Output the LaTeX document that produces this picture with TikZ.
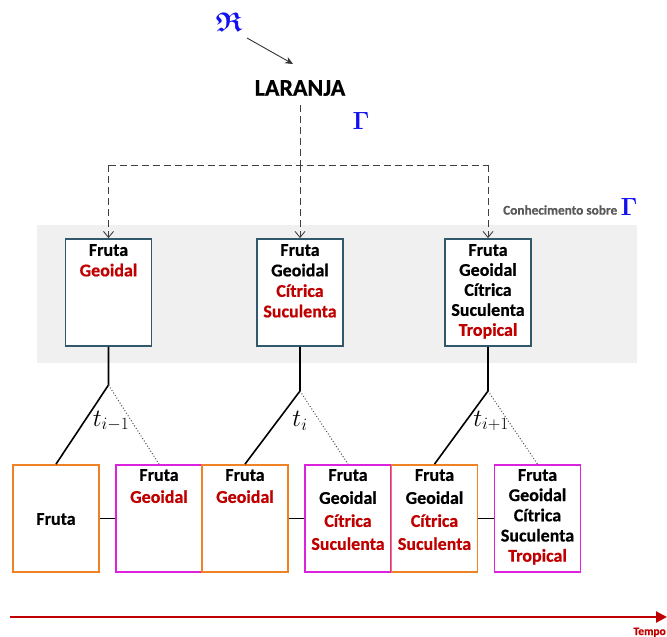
\documentclass[tikz,border=0pt]{standalone}
\usepackage{amssymb}
\usepackage{bm}
\usepackage{fontspec}
\setmainfont{Carlito}[BoldFeatures={FakeBold=0.6}]
\usetikzlibrary{arrows.meta}
\definecolor{txtred}{HTML}{C00000}
\definecolor{teal2}{HTML}{31596B}
\definecolor{orng}{HTML}{F08226}
\definecolor{magn}{HTML}{DD22DD}
\definecolor{bggray}{HTML}{F0F0F0}
\definecolor{gtxt}{HTML}{595959}
\definecolor{blu}{HTML}{1010F0}
\tikzset{
  topbox/.style={draw=teal2,line width=1.8pt,fill=white,minimum width=86pt,minimum height=107pt,inner sep=0pt},
  obox/.style={draw=orng,line width=1.8pt,fill=white,minimum width=86pt,minimum height=107pt,inner sep=0pt},
  mbox/.style={draw=magn,line width=1.8pt,fill=white,minimum width=86pt,minimum height=107pt,inner sep=0pt},
  btxt/.style={anchor=north,inner sep=0pt,align=center,font=\bfseries\fontsize{18}{20.5}\selectfont},
  dsh/.style={dashed,dash pattern=on 7pt off 4pt,line width=0.9pt,draw=black!75,-{Straight Barb[length=6pt,width=10pt]}},
  dshl/.style={dashed,dash pattern=on 7pt off 4pt,line width=0.9pt,draw=black!75},
  sol/.style={line width=1.6pt,black},
  dot/.style={dotted,line width=1pt,black!70},
  lbl/.style={inner sep=0pt,font=\fontsize{26}{28}\selectfont}
}
\newcommand{\rd}[1]{\textcolor{txtred}{#1}}
\begin{document}
\begin{tikzpicture}[x=1pt,y=-1pt]
\useasboundingbox (0,0) rectangle (667,637);
% background
\fill[bggray] (37,225) rectangle (637,363);
% top
\node[inner sep=0pt,text=blu,font=\fontsize{27}{30}\selectfont] (R) at (229,22) {$\bm{\mathfrak{R}}$};
\node[inner sep=0pt,font=\bfseries\fontsize{24}{28}\selectfont] (L) at (300,88) {LARANJA};
\coordinate (Rs) at (247,38);
\coordinate (Le) at (293,64);
\draw[line width=0.9pt,black!80,-{Stealth[length=8pt,width=7pt]}] (Rs) -- (Le);
\node[inner sep=0pt,text=blu,font=\fontsize{27}{30}\selectfont] (G1) at (361,121) {$\bm{\Gamma}$};
\node[inner sep=0pt,anchor=west,text=gtxt,font=\bfseries\fontsize{13.3}{15}\selectfont] (CS) at (503,210) {Conhecimento sobre};
\node[inner sep=0pt,text=blu,font=\fontsize{27}{30}\selectfont] (G2) at (629,207) {$\bm{\Gamma}$};
% top boxes
\node[topbox] (T1) at (108.5,292.5) {};
\node[topbox] (T2) at (300,292.5) {};
\node[topbox] (T3) at (488,292.5) {};
\node[btxt] (t1) at (108.5,244) {Fruta\\\rd{Geoidal}};
\node[btxt] (t2) at (300,244) {Fruta\\Geoidal\\\rd{Cítrica}\\\rd{Suculenta}};
\node[btxt,font=\bfseries\fontsize{18}{20}\selectfont] (t3) at (488,244) {Fruta\\Geoidal\\Cítrica\\Suculenta\\\rd{Tropical}};
% dashed tree
\coordinate (D0) at (300,105);
\coordinate (D1) at (300,165);
\coordinate (DL) at (108.5,165);
\coordinate (DR) at (488,165);
\draw[dshl] (D0) -- (D1);
\draw[dshl] (DL) -- (DR);
\draw[dsh] (DL) -- (T1.north);
\draw[dsh] (D1) -- (T2.north);
\draw[dsh] (DR) -- (T3.north);
% bottom boxes
\node[obox] (B1) at (56,518.5) {};
\node[mbox] (B2) at (159,518.5) {};
\node[obox] (B3) at (245,518.5) {};
\node[mbox] (B4) at (348,518.5) {};
\node[obox] (B5) at (434.5,518.5) {};
\node[mbox] (B6) at (537.5,518.5) {};
\node[inner sep=0pt,font=\bfseries\fontsize{18}{20.5}\selectfont] (b1) at (56,519) {Fruta};
\node[btxt,font=\bfseries\fontsize{18}{22}\selectfont] (b2) at (159,469) {Fruta\\\rd{Geoidal}};
\node[btxt,font=\bfseries\fontsize{18}{22}\selectfont] (b3) at (245,469) {Fruta\\\rd{Geoidal}};
\node[btxt,font=\bfseries\fontsize{18}{23}\selectfont] (b4) at (348,469) {Fruta\\Geoidal\\\rd{Cítrica}\\\rd{Suculenta}};
\node[btxt,font=\bfseries\fontsize{18}{23}\selectfont] (b5) at (434.5,469) {Fruta\\Geoidal\\\rd{Cítrica}\\\rd{Suculenta}};
\node[btxt,font=\bfseries\fontsize{18}{20.2}\selectfont] (b6) at (537.5,469) {Fruta\\Geoidal\\Cítrica\\Suculenta\\\rd{Tropical}};
% horizontal connectors
\draw[sol,line width=1.4pt] (B1.east) -- (B2.west);
\draw[sol,line width=1.4pt] (B3.east) -- (B4.west);
\draw[sol,line width=1.4pt] (B5.east) -- (B6.west);
% branching
\coordinate (J1) at (108.5,385);
\coordinate (J2) at (300,391);
\coordinate (J3) at (488,391);
\draw[sol] (T1.south) -- (J1) -- (B1.north);
\draw[sol] (T2.south) -- (J2) -- (B3.north);
\draw[sol] (T3.south) -- (J3) -- (B5.north);
\draw[dot] (J1) -- (B2.north);
\draw[dot] (J2) -- (B4.north);
\draw[dot] (J3) -- (B6.north);
\node[lbl] (L1) at (111,421) {$t_{i-1}$};
\node[lbl] (L2) at (300,421) {$t_{i}$};
\node[lbl] (L3) at (491,421) {$t_{i+1}$};
% timeline
\coordinate (A0) at (10,617);
\coordinate (A1) at (667,617);
\draw[txtred,line width=2.2pt,-{Triangle[length=11pt,width=11pt]}] (A0) -- (A1);
\node[inner sep=0pt,anchor=base east,text=txtred,font=\bfseries\fontsize{11.5}{13}\selectfont] (TP) at (666,635) {Tempo};
\end{tikzpicture}
\end{document}
